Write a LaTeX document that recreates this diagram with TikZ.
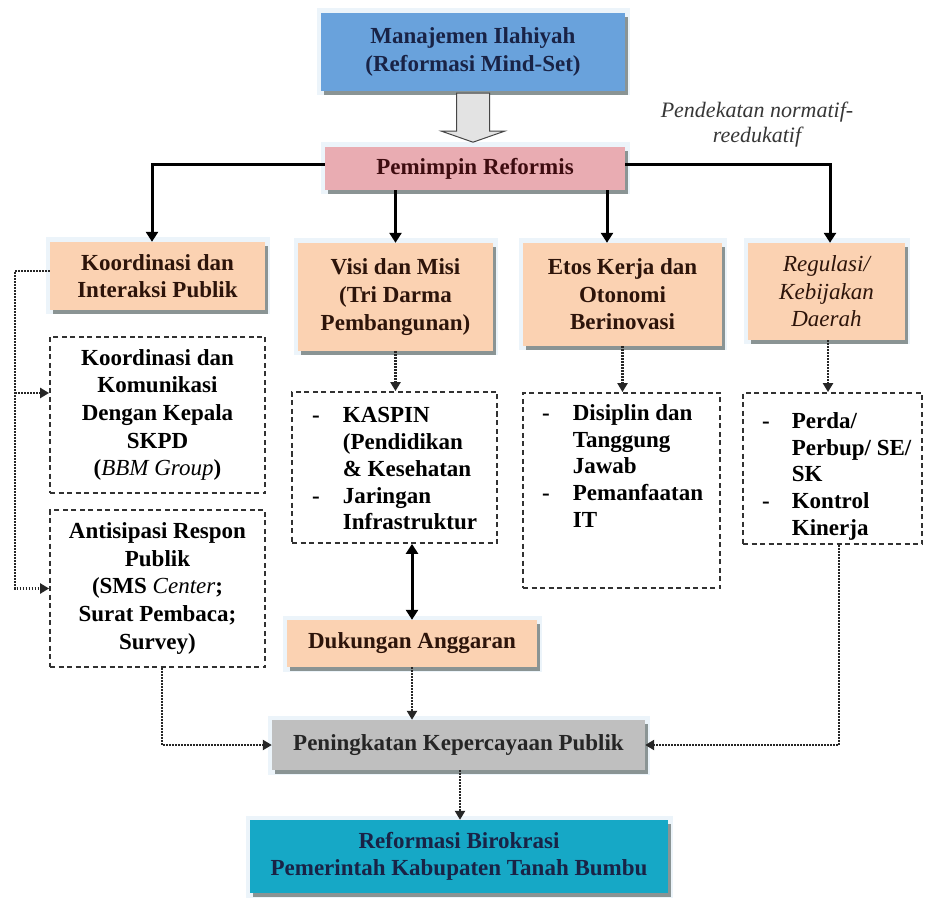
\documentclass[tikz,border=0pt]{standalone}
\usepackage{fontspec}
\setmainfont{Liberation Serif}
\usetikzlibrary{arrows.meta,shadows}

\definecolor{mgblue}{RGB}{105,162,220}
\definecolor{leadpink}{RGB}{233,172,178}
\definecolor{peach}{RGB}{251,210,178}
\definecolor{trustgray}{RGB}{191,191,191}
\definecolor{reformteal}{RGB}{22,168,198}
\definecolor{shadowgray}{RGB}{138,148,148}
\definecolor{glow}{RGB}{236,244,250}
\definecolor{dashgray}{RGB}{50,50,50}
\definecolor{navytext}{RGB}{25,35,70}
\definecolor{maroontext}{RGB}{62,12,16}
\definecolor{browntext}{RGB}{45,20,10}
\definecolor{noteink}{RGB}{55,55,55}

\newcommand\boxfont{\fontsize{23}{27.6}\selectfont\bfseries}
\newcommand\listfont{\fontsize{23}{26.8}\selectfont\bfseries}

\tikzset{
  colbox/.style={rectangle, inner sep=0pt, align=center, font=\boxfont,
    preaction={draw=glow, line width=9pt},
    drop shadow={shadow xshift=3pt, shadow yshift=-4pt, fill=shadowgray, opacity=1}},
  dbox/.style={rectangle, draw=dashgray, line width=1.8pt,
    dash pattern=on 5pt off 3.5pt, inner sep=0pt, align=center, font=\boxfont},
  listtext/.style={inner sep=0pt, font=\listfont},
  thickarr/.style={line width=3pt, -{Triangle[width=12pt,length=10pt]}},
  thickdbl/.style={line width=3pt, {Triangle[width=12pt,length=10pt]}-{Triangle[width=12pt,length=10pt]}},
  dotline/.style={line width=2.4pt, draw=black!85, dash pattern=on 1.8pt off 1.2pt},
  dotarr/.style={dotline, -{Triangle[width=10pt,length=9pt]}},
  hollow/.style={fill=gray!22, draw=gray!55!black, line width=1pt, line join=miter}
}

\begin{document}
\begin{tikzpicture}[x=1pt, y=-1pt]
  \fill[white] (0,0) rectangle (927,901);
  \useasboundingbox (0,0) rectangle (927,901);

  % top of the hierarchy
  \node[colbox, fill=mgblue, text=navytext, minimum width=304pt, minimum height=78pt]
    (man) at (473,52) {Manajemen Ilahiyah\\(Reformasi Mind-Set)};
  \node[colbox, fill=leadpink, text=maroontext, minimum width=300pt, minimum height=43pt]
    (pem) at (475,168.5) {Pemimpin Reformis};

  \node[align=center, inner sep=0pt, text=noteink, font=\fontsize{22}{25}\selectfont\itshape]
    (note) at (757,124.5) {Pendekatan normatif-\\reedukatif};

  % the four pillars
  \node[colbox, fill=peach, text=browntext, minimum width=215pt, minimum height=68pt]
    (koor) at (157.5,276) {Koordinasi dan\\Interaksi Publik};
  \node[colbox, fill=peach, text=browntext, minimum width=195pt, minimum height=108pt]
    (visi) at (395.5,297) {Visi dan Misi\\(Tri Darma\\Pembangunan)};
  \node[colbox, fill=peach, text=browntext, minimum width=199pt, minimum height=103pt]
    (etos) at (622.5,294.5) {Etos Kerja dan\\Otonomi\\Berinovasi};
  \node[colbox, fill=peach, text=browntext, minimum width=157pt, minimum height=97pt,
    font=\fontsize{23}{27.6}\selectfont\mdseries\itshape]
    (reg) at (826.5,291.5) {Regulasi/\\Kebijakan\\Daerah};

  % detail boxes
  \node[dbox, minimum width=215pt, minimum height=156pt] (kom) at (157.5,415)
    {Koordinasi dan\\Komunikasi\\Dengan Kepala\\SKPD\\({\mdseries\itshape BBM Group})};
  \node[dbox, minimum width=215pt, minimum height=157pt] (ant) at (157.5,588.5)
    {Antisipasi Respon\\Publik\\(SMS {\mdseries\itshape Center};\\Surat Pembaca;\\Survey)};

  \node[dbox, minimum width=205pt, minimum height=151pt] (kas) at (394.5,467.5) {};
  \node[listtext, anchor=west] (kastext) at (312,471)
    {\begin{tabular}{@{}l@{\hspace{23pt}}l@{}}-&KASPIN\\&(Pendidikan\\&\&~Kesehatan\\-&Jaringan\\&Infrastruktur\end{tabular}};

  \node[dbox, minimum width=197pt, minimum height=195pt] (dis) at (621.5,490.5) {};
  \node[listtext, anchor=west] (distext) at (542,468.5)
    {\begin{tabular}{@{}l@{\hspace{23pt}}l@{}}-&Disiplin dan\\&Tanggung\\&Jawab\\-&Pemanfaatan\\&IT\end{tabular}};

  \node[dbox, minimum width=179pt, minimum height=151pt] (per) at (832.5,468.5) {};
  \node[listtext, anchor=west] (pertext) at (762,476.5)
    {\begin{tabular}{@{}l@{\hspace{22pt}}l@{}}-&Perda/\\&Perbup/ SE/\\&SK\\-&Kontrol\\&Kinerja\end{tabular}};

  % outcome chain
  \node[colbox, fill=peach, text=browntext, minimum width=250pt, minimum height=47pt]
    (duk) at (412,643.5) {Dukungan Anggaran};
  \node[colbox, fill=trustgray, text=black!85, minimum width=373pt, minimum height=50pt]
    (pen) at (458.5,745) {Peningkatan Kepercayaan Publik};
  \node[colbox, fill=reformteal, text=navytext, minimum width=418pt, minimum height=73pt]
    (ref) at (459,856.5) {Reformasi Birokrasi\\Pemerintah Kabupaten Tanah Bumbu};

  % block arrow from the mind-set box to the leader
  \draw[hollow] ([xshift=-16.5pt,yshift=-2pt]man.south) -- ++(33,0) -- ++(0,38)
    -- ++(15,0) -- ++(-31.5,11) -- ++(-31.5,-11) -- ++(15,0) -- cycle;

  % leader to the four pillars
  \coordinate (ltop) at (152,165);
  \coordinate (rtop) at (830,165);
  \coordinate (etx) at (607,0);
  \draw[thickarr] (pem.west |- ltop) -| (ltop |- koor.north);
  \draw[thickarr] (pem.east |- rtop) -| (rtop |- reg.north);
  \draw[thickarr] (pem.south -| visi.north) -- (visi.north);
  \draw[thickarr] (pem.south -| etx) -- (etx |- etos.north);

  % pillars to their details
  \draw[dotarr] (visi.south) -- (visi.south |- kas.north);
  \draw[dotarr] (etos.south) -- (etos.south |- dis.north);
  \coordinate (rgx) at (828,0);
  \draw[dotarr] (rgx |- reg.south) -- (rgx |- per.north);

  % left rail from the public interaction box
  \coordinate (lrail) at (15,271);
  \coordinate (lbranch) at (15,393);
  \draw[dotarr] (koor.west |- lrail) -- (lrail) |- (ant.west);
  \draw[dotarr] (lbranch) -- (lbranch -| kom.west);

  % budget support
  \draw[thickdbl] (duk.north |- kas.south) -- (duk.north);
  \draw[dotarr] (duk.south) -- (duk.south |- pen.north);

  % into public trust
  \coordinate (lx) at (162,0);
  \coordinate (rx) at (839,0);
  \draw[dotarr] (lx |- ant.south) |- (pen.west);
  \draw[dotarr] (rx |- per.south) |- (pen.east);
  \coordinate (px) at (460,0);
  \draw[dotarr] (px |- pen.south) -- (px |- ref.north);
\end{tikzpicture}
\end{document}
